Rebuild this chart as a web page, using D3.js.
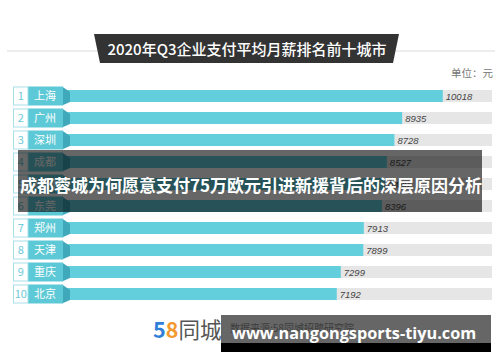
<!DOCTYPE html>
<html>
<head>
<meta charset="utf-8">
<script src="https://cdnjs.cloudflare.com/ajax/libs/d3/7.8.5/d3.min.js"></script>
<style>
  body { margin: 0; background: #fff; }
  text { font-family: "Noto Sans CJK SC", "Noto Sans", sans-serif; }
</style>
</head>
<body>
<div id="chart"></div>
<script>
// data
var ranks = [1, 2, 3, 4, 5, 6, 7, 8, 9, 10];
var cities = ["上海", "广州", "深圳", "成都", "杭州", "东莞", "郑州", "天津", "重庆", "北京"];
var salaries = [10018, 8935, 8728, 8527, 8480, 8396, 7913, 7899, 7299, 7192];

var title = "2020年Q3企业支付平均月薪排名前十城市";
var unitLabel = "单位：元";
var sourceLabel = "数据来源:58同城招聘研究院";
var overlayTitle = "成都蓉城为何愿意支付75万欧元引进新援背后的深层原因分析";
var watermark = "www.nangongsports-tiyu.com";

var data = cities.map(function(c, i) {
  return { rank: ranks[i], city: c, value: salaries[i] };
});

var width = 500, height = 362;

// scales
var xScale = d3.scaleLinear().domain([0, 11330]).range([67, 492]);
var yScale = d3.scaleBand().domain(cities).range([85, 305]).padding(0);

var svg = d3.select("#chart").append("svg")
    .attr("width", width)
    .attr("height", height);

// header line + banner
svg.append("line")
    .attr("x1", 7).attr("x2", 495)
    .attr("y1", 51).attr("y2", 51)
    .style("stroke", "#dcdcdc").style("stroke-width", 1);

svg.append("path")
    .attr("d", "M94,34 L399,34 L393,63 L100,63 Z")
    .style("fill", "#333");

svg.append("text")
    .attr("x", 247).attr("y", 54.5)
    .attr("text-anchor", "middle")
    .style("font-size", "15px")
    .style("font-weight", "500")
    .style("fill", "#fff")
    .text(title);

svg.append("text")
    .attr("x", 493).attr("y", 77)
    .attr("text-anchor", "end")
    .style("font-size", "10.5px")
    .style("fill", "#777")
    .text(unitLabel);

// rows
var rows = svg.selectAll(".row")
    .data(data)
    .enter()
    .append("g")
    .attr("class", "row")
    .attr("transform", function(d) { return "translate(0," + yScale(d.city) + ")"; });

var mid = yScale.bandwidth() / 2;

// grey track
rows.append("rect")
    .attr("x", xScale(0))
    .attr("y", mid - 6)
    .attr("width", xScale(11330) - xScale(0))
    .attr("height", 12)
    .style("fill", "#e6e6e6");

// value bar
rows.append("rect")
    .attr("x", xScale(0))
    .attr("y", mid - 6)
    .attr("width", function(d) { return xScale(d.value) - xScale(0); })
    .attr("height", 12)
    .style("fill", "#63cfdc");

// fold piece
rows.append("path")
    .attr("d", "M62," + (mid - 9.5) + " L70," + (mid - 4) + " L70," + (mid + 6) + " L62," + (mid + 9.5) + " Z")
    .style("fill", "#3fa9bb");

// city label box
rows.append("rect")
    .attr("x", 28)
    .attr("y", mid - 9.5)
    .attr("width", 35)
    .attr("height", 19)
    .style("fill", "#5ec9d6");

rows.append("text")
    .attr("x", 34)
    .attr("y", mid + 4)
    .style("font-size", "11px")
    .style("fill", "#fff")
    .text(function(d) { return d.city; });

// rank box
rows.append("rect")
    .attr("x", 13.5)
    .attr("y", mid - 9)
    .attr("width", 14.5)
    .attr("height", 18)
    .style("fill", "#fff")
    .style("stroke", "#a8e0e8")
    .style("stroke-width", 1);

rows.append("text")
    .attr("x", 20.75)
    .attr("y", mid + 4)
    .attr("text-anchor", "middle")
    .style("font-size", "11px")
    .style("fill", "#6dcad6")
    .text(function(d) { return d.rank; });

// value labels
rows.append("text")
    .attr("x", function(d) { return xScale(d.value) + 3; })
    .attr("y", mid + 3.5)
    .style("font-family", "'Liberation Sans', Arial, sans-serif")
    .style("font-style", "italic")
    .style("font-size", "9.5px")
    .style("fill", "#444")
    .text(function(d) { return d.value; });

// footer logo + source
var logo = svg.append("text")
    .attr("x", 153).attr("y", 338)
    .style("font-size", "21.5px");
logo.append("tspan").style("fill", "#2f7fd8").style("font-weight", "bold").text("5");
logo.append("tspan").style("fill", "#f29a2e").style("font-weight", "bold").text("8");
logo.append("tspan").style("fill", "#555").text("同城");

svg.append("text")
    .attr("x", 230).attr("y", 332)
    .style("font-size", "10px")
    .style("fill", "#999")
    .text(sourceLabel);

// dark overlay across the middle
svg.append("rect")
    .attr("x", 18).attr("y", 150)
    .attr("width", 464).attr("height", 62)
    .style("fill", "#000")
    .style("opacity", 0.6);

svg.append("text")
    .attr("x", 20).attr("y", 192)
    .style("font-size", "17px")
    .style("font-weight", "bold")
    .style("fill", "#fff")
    .text(overlayTitle);

// watermark box
svg.append("rect")
    .attr("x", 221).attr("y", 315)
    .attr("width", 270).attr("height", 28)
    .style("fill", "#000")
    .style("opacity", 0.6);

svg.append("rect")
    .attr("x", 221).attr("y", 343)
    .attr("width", 270).attr("height", 9)
    .style("fill", "#000");

svg.append("text")
    .attr("x", 232).attr("y", 339)
    .style("font-family", "'Open Sans', 'DejaVu Sans', sans-serif")
    .style("font-size", "16.3px")
    .style("font-weight", "bold")
    .style("fill", "#fff")
    .text(watermark);
</script>
</body>
</html>
